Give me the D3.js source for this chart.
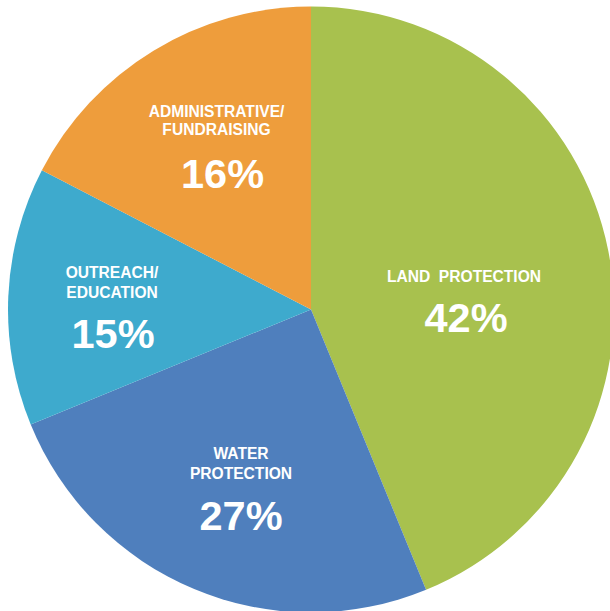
<!DOCTYPE html>
<html>
<head>
<meta charset="utf-8">
<script src="https://cdn.jsdelivr.net/npm/d3@7"></script>
<style>
  html, body { margin: 0; padding: 0; background: #ffffff; overflow: hidden; }
  svg { display: block; }
  text { font-family: "Liberation Sans", Arial, Helvetica, sans-serif; font-weight: bold; fill: #ffffff; }
</style>
</head>
<body>
<svg id="chart" width="610" height="611"></svg>
<script>
// Categories, clockwise from 12 o'clock
const categories = ["LAND PROTECTION", "WATER PROTECTION", "OUTREACH/EDUCATION", "ADMINISTRATIVE/FUNDRAISING"];
// Percent labels printed on the chart
const percentLabels = ["42%", "27%", "15%", "16%"];
// Slice shares as drawn in the picture (measured from the slice angles)
const sliceShares = [43.8, 25.0, 13.8, 17.4];
// Label lines per category
const labelLines = [["LAND\u00a0\u00a0PROTECTION"], ["WATER", "PROTECTION"], ["OUTREACH/", "EDUCATION"], ["ADMINISTRATIVE/", "FUNDRAISING"]];
const colors = ["#a8c14e", "#4f7fbd", "#3eaacd", "#ee9d3c"];

const W = 610, H = 611;
const cx = 311, cy = 309.5, R = 303;

const svg = d3.select("#chart");
const g = svg.append("g").attr("transform", `translate(${cx},${cy})`);

const pie = d3.pie().sort(null).value(d => d.share).startAngle(0).endAngle(2 * Math.PI);
const data = categories.map((c, i) => ({ name: c, share: sliceShares[i], pct: percentLabels[i], lines: labelLines[i], color: colors[i] }));
const arcs = pie(data);
const arc = d3.arc().innerRadius(0).outerRadius(R);

g.selectAll("path.slice")
  .data(arcs)
  .join("path")
  .attr("class", "slice")
  .attr("d", arc)
  .attr("fill", d => d.data.color);

// Label anchor offsets relative to the pie center (layout placement)
const labelPos = [
  { x: 153, lineY: [-28], pctY: 22.5, pctX: 155 },
  { x: -70, lineY: [149.5, 169.5], pctY: 220.5, pctX: -70 },
  { x: -199, lineY: [-32, -12], pctY: 38.5, pctX: -198 },
  { x: -94.5, lineY: [-193, -174.5], pctY: -122, pctX: -88.5 }
];

const labels = g.selectAll("g.label").data(arcs).join("g").attr("class", "label");
labels.each(function(d, i) {
  const sel = d3.select(this);
  const p = labelPos[i];
  d.data.lines.forEach((ln, j) => {
    sel.append("text")
      .attr("x", p.x)
      .attr("y", p.lineY[j])
      .attr("text-anchor", "middle")
      .attr("font-size", 15.6)
      .text(ln);
  });
  sel.append("text")
    .attr("x", p.pctX)
    .attr("y", p.pctY)
    .attr("text-anchor", "middle")
    .attr("font-size", 41.5)
    .text(d.data.pct);
});
</script>
</body>
</html>
